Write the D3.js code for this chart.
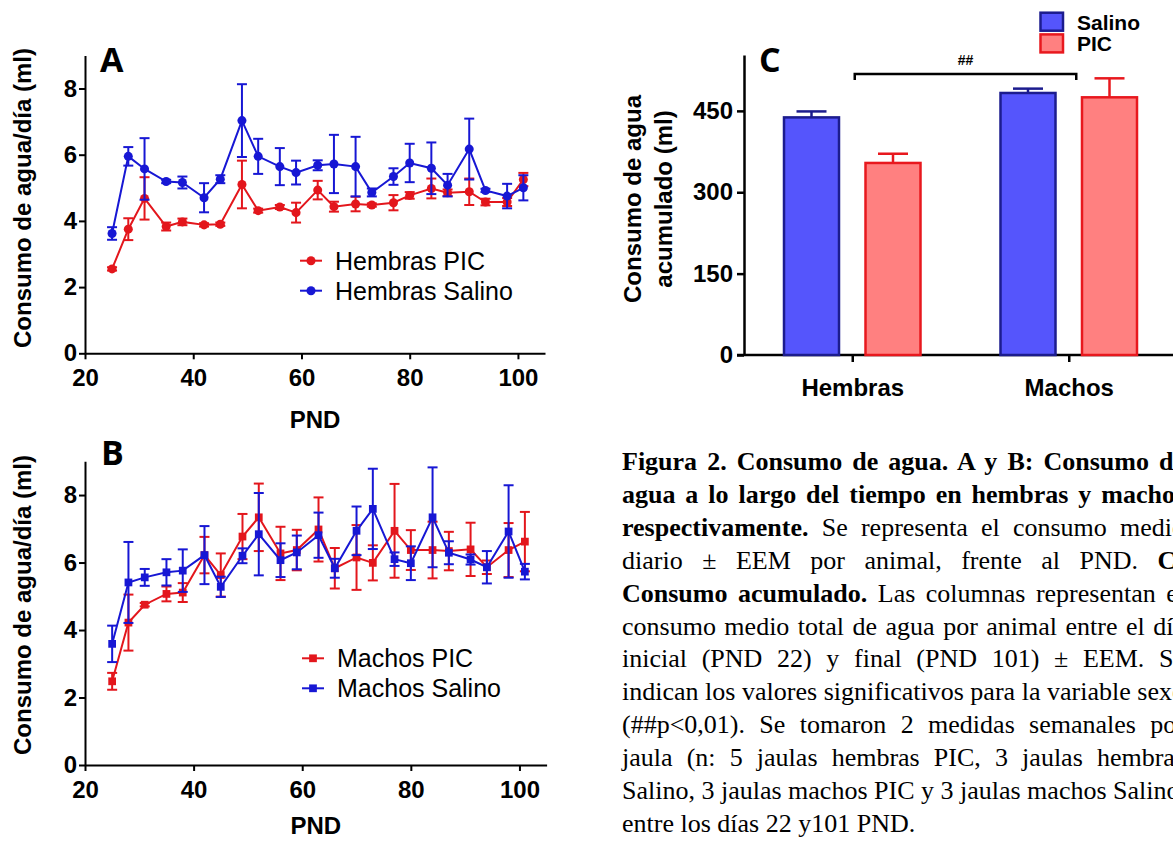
<!DOCTYPE html>
<html>
<head>
<meta charset="utf-8">
<script src="https://cdn.jsdelivr.net/npm/d3@7"></script>
<style>
body{margin:0;background:#fff}
svg{display:block;font-family:'Liberation Sans',Arial,sans-serif}
</style>
</head>
<body>
<svg></svg>
<script>
// PND (days) shared by A and B
let days = [25,28,31,35,38,42,45,49,52,56,59,63,66,70,73,77,80,84,87,91,94,98,101]

// A: hembras
let hembrasPIC = [2.55,3.75,4.68,3.83,3.97,3.88,3.9,5.1,4.31,4.42,4.25,4.93,4.43,4.51,4.48,4.55,4.77,4.98,4.85,4.88,4.57,4.57,5.25]
let hembrasPICerr = [0.05,0.33,0.64,0.12,0.1,0.05,0.05,0.72,0.06,0.06,0.3,0.28,0.15,0.22,0.05,0.23,0.1,0.3,0.1,0.4,0.1,0.12,0.2]
let hembrasSalino = [3.62,5.95,5.57,5.19,5.16,4.7,5.26,7.03,5.95,5.64,5.46,5.68,5.72,5.64,4.86,5.34,5.75,5.59,5.08,6.17,4.92,4.75,5.0]
let hembrasSalinoErr = [0.19,0.28,0.93,0.05,0.18,0.44,0.12,1.1,0.53,0.56,0.36,0.15,0.88,0.9,0.12,0.25,0.58,0.78,0.34,0.92,0.05,0.37,0.38]

// B: machos
let machosPIC = [2.48,4.22,4.75,5.07,5.11,6.22,5.63,6.77,7.34,6.27,6.37,6.98,5.83,6.15,5.99,6.94,6.37,6.37,6.34,6.39,5.86,6.37,6.62]
let machosPICerr = [0.25,0.83,0.05,0.22,0.28,0.54,0.64,0.67,1.0,0.79,0.6,0.95,0.6,0.96,0.52,1.39,0.59,0.84,0.57,0.79,0.2,0.8,0.88]
let machosSalino = [3.59,5.41,5.56,5.71,5.76,6.22,5.28,6.2,6.84,6.07,6.3,6.81,5.83,6.94,7.59,6.1,5.98,7.34,6.29,6.09,5.86,6.92,5.73]
let machosSalinoErr = [0.54,1.2,0.25,0.39,0.63,0.86,0.3,0.22,1.22,0.5,0.5,0.67,0.28,0.72,1.19,0.2,0.5,1.48,0.34,0.15,0.48,1.37,0.23]

let xTicks = [20,40,60,80,100]
let yTicks = [0,2,4,6,8]

// C: acumulado
let sexos = ['Hembras','Machos']
let acumSalino = [438,483]
let acumSalinoErr = [11,8]
let acumPIC = [354,475]
let acumPICerr = [17,35]
let cTicks = [0,150,300,450]

let red = '#e3161c'
let blue = '#1717d4'

let width = 1173
let height = 841

let svg = d3.select('svg').attr('width',width).attr('height',height)
svg.append('rect').attr('width',width).attr('height',height).attr('fill','#fff')

let styleAxis = (g, size) => {
    g.selectAll('path,line').attr('stroke','#000').attr('stroke-width',2)
    g.selectAll('text').attr('font-size',size).attr('font-weight','bold')
        .attr('fill','#000').attr('font-family',"'Liberation Sans',Arial,sans-serif")
}

let drawLinePanel = (p) => {
    let xscale = d3.scaleLinear().domain([20,105]).range(p.xr)
    let yscale = d3.scaleLinear().domain([0,9]).range(p.yr)

    let xAxis = d3.axisBottom(xscale).tickValues(xTicks).tickSize(6).tickSizeOuter(0).tickPadding(10)
    let yAxis = d3.axisLeft(yscale).tickValues(yTicks).tickSize(6).tickSizeOuter(0).tickPadding(2)

    svg.append('g').attr('transform','translate(0,'+p.yr[0]+')').call(xAxis).call(styleAxis,24)
    svg.append('g').attr('transform','translate('+p.xr[0]+',0)').call(yAxis).call(styleAxis,24)

    let sym = d3.symbol().type(p.symbol).size(p.symSize)

    p.series.forEach((s) => {
        let pts = days.map((d,i) => ({d:d, v:s.values[i], e:s.err[i]}))
        let g = svg.append('g')
        // error bars
        pts.forEach((pt) => {
            let x = xscale(pt.d)
            g.append('line').attr('x1',x).attr('x2',x)
                .attr('y1',yscale(pt.v-pt.e)).attr('y2',yscale(pt.v+pt.e))
                .attr('stroke',s.color).attr('stroke-width',2)
            ;[pt.v-pt.e, pt.v+pt.e].forEach((yy) => {
                g.append('line').attr('x1',x-5).attr('x2',x+5)
                    .attr('y1',yscale(yy)).attr('y2',yscale(yy))
                    .attr('stroke',s.color).attr('stroke-width',2)
            })
        })
        g.append('path').datum(pts)
            .attr('d', d3.line().x((pt) => xscale(pt.d)).y((pt) => yscale(pt.v)))
            .attr('fill','none').attr('stroke',s.color).attr('stroke-width',2)
        g.selectAll('.pt').data(pts).enter().append('path')
            .attr('d',sym)
            .attr('transform',(pt) => 'translate('+xscale(pt.d)+','+yscale(pt.v)+')')
            .attr('fill',s.color)
    })

    // legend
    p.series.forEach((s,i) => {
        let ly = p.legY + i*30
        svg.append('line').attr('x1',p.legX).attr('x2',p.legX+22).attr('y1',ly).attr('y2',ly)
            .attr('stroke',s.color).attr('stroke-width',2)
        svg.append('path').attr('d',sym).attr('transform','translate('+(p.legX+11)+','+ly+')').attr('fill',s.color)
        svg.append('text').attr('x',p.legX+35).attr('y',ly).attr('dominant-baseline','central')
            .attr('font-size',25).text(s.label)
    })

    svg.append('text').attr('transform','translate(22,'+p.titleY+') rotate(-90)')
        .attr('text-anchor','middle').attr('dominant-baseline','central')
        .attr('font-size',24).attr('font-weight','bold').text('Consumo de agua/día (ml)')
    svg.append('text').attr('x',(p.xr[0]+p.xr[1])/2).attr('y',p.pndY)
        .attr('text-anchor','middle').attr('font-size',24).attr('font-weight','bold').text('PND')
    svg.append('text').attr('x',p.letterX).attr('y',p.letterY)
        .attr('font-family',"'Open Sans',sans-serif").attr('font-size',34).attr('font-weight','bold').text(p.letter)
}

drawLinePanel({
    xr:[85,545], yr:[353.3,55.4], symbol:d3.symbolCircle, symSize:64,
    series:[
        {values:hembrasPIC, err:hembrasPICerr, color:red, label:'Hembras PIC'},
        {values:hembrasSalino, err:hembrasSalinoErr, color:blue, label:'Hembras Salino'}
    ],
    legX:300, legY:260.7, titleY:198, pndY:428, letter:'A', letterX:100, letterY:72
})

drawLinePanel({
    xr:[85,546.6], yr:[765,461.3], symbol:d3.symbolSquare, symSize:60,
    series:[
        {values:machosPIC, err:machosPICerr, color:red, label:'Machos PIC'},
        {values:machosSalino, err:machosSalinoErr, color:blue, label:'Machos Salino'}
    ],
    legX:302, legY:658.3, titleY:605, pndY:834, letter:'B', letterX:101, letterY:465
})

// ---- panel C ----
let drawBars = () => {
    let xscale = d3.scalePoint().domain(sexos).range([744,1177]).padding(0.5)
    let yscale = d3.scaleLinear().domain([0,553]).range([355,55])
    let barW = 55
    let off = 40.75

    svg.append('line').attr('x1',737).attr('x2',width).attr('y1',355).attr('y2',355)
        .attr('stroke','#000').attr('stroke-width',2.5)
    let xAxis = d3.axisBottom(xscale).tickSize(7).tickSizeOuter(0).tickPadding(17)
    let gx = svg.append('g').attr('transform','translate(0,355)').call(xAxis).call(styleAxis,24)
    gx.select('.domain').remove()
    gx.selectAll('line').attr('stroke-width',2.5)

    let yAxis = d3.axisLeft(yscale).tickValues(cTicks).tickSize(7).tickSizeOuter(0).tickPadding(4)
    let gy = svg.append('g').attr('transform','translate(744,0)').call(yAxis).call(styleAxis,24)
    gy.selectAll('path,line').attr('stroke-width',2.5)

    let groups = [
        {vals:acumSalino, err:acumSalinoErr, fill:'#5555fc', stroke:'#1c1c8e', dx:-off},
        {vals:acumPIC, err:acumPICerr, fill:'#ff8080', stroke:'#e8181e', dx:off}
    ]
    groups.forEach((gr) => {
        sexos.forEach((s,i) => {
            let cx = xscale(s) + gr.dx
            let top = yscale(gr.vals[i]+gr.err[i])
            svg.append('line').attr('x1',cx).attr('x2',cx).attr('y1',yscale(gr.vals[i])).attr('y2',top)
                .attr('stroke',gr.stroke).attr('stroke-width',2.5)
            svg.append('line').attr('x1',cx-15).attr('x2',cx+15).attr('y1',top).attr('y2',top)
                .attr('stroke',gr.stroke).attr('stroke-width',2.5)
            svg.append('rect').attr('x',cx-barW/2).attr('width',barW)
                .attr('y',yscale(gr.vals[i])).attr('height',yscale(0)-yscale(gr.vals[i]))
                .attr('fill',gr.fill).attr('stroke',gr.stroke).attr('stroke-width',2.5)
        })
    })

    // significance bracket
    let bx1 = xscale('Hembras')+2.5, bx2 = xscale('Machos')+7.5
    svg.append('path').attr('d','M'+bx1+',80V74H'+bx2+'V80')
        .attr('fill','none').attr('stroke','#000').attr('stroke-width',2.5)
    svg.append('text').attr('x',(bx1+bx2)/2).attr('y',60).attr('text-anchor','middle')
        .attr('dominant-baseline','central').attr('font-size',14).attr('font-weight','bold').text('##')

    // legend
    let leg = [['Salino','#5555fc','#1c1c8e'],['PIC','#ff8080','#e8181e']]
    leg.forEach((l,i) => {
        let y0 = 12.7 + i*21.7
        svg.append('rect').attr('x',1040.5).attr('y',y0).attr('width',22.5).attr('height',18)
            .attr('fill',l[1]).attr('stroke',l[2]).attr('stroke-width',2.5)
        svg.append('text').attr('x',1077).attr('y',y0+9.5).attr('dominant-baseline','central')
            .attr('font-size',21).attr('font-weight','bold').text(l[0])
    })

    ;['Consumo de agua','acumulado (ml)'].forEach((t,i) => {
        svg.append('text').attr('transform','translate('+(632+i*31.6)+',199) rotate(-90)')
            .attr('text-anchor','middle').attr('dominant-baseline','central')
            .attr('font-size',24).attr('font-weight','bold').text(t)
    })
    svg.append('text').attr('x',759).attr('y',72)
        .attr('font-family',"'Open Sans',sans-serif").attr('font-size',34).attr('font-weight','bold').text('C')
}
drawBars()

// ---- caption (the reference crops it at the right edge of the page) ----
let caption = [
    [['Figura 2. Consumo de agua. A y B: Consumo de',1]],
    [['agua a lo largo del tiempo en hembras y machos',1]],
    [['respectivamente.',1],[' Se representa el consumo medio',0]],
    [['diario ± EEM por animal, frente al PND. ',0],['C:',1]],
    [['Consumo acumulado.',1],[' Las columnas representan el',0]],
    [['consumo medio total de agua por animal entre el día',0]],
    [['inicial (PND 22) y final (PND 101) ± EEM. Se',0]],
    [['indican los valores significativos para la variable sexo',0]],
    [['(##p<0,01). Se tomaron 2 medidas semanales por',0]],
    [['jaula (n: 5 jaulas hembras PIC, 3 jaulas hembras',0]],
    [['Salino, 3 jaulas machos PIC y 3 jaulas machos Salino)',0]],
    [['entre los días 22 y101 PND.',0]]
]
let colW = 563
caption.forEach((line,i) => {
    let t = svg.append('text').attr('x',622).attr('y',470+i*32.9)
        .attr('font-family',"'Liberation Serif','Times New Roman',serif").attr('font-size',26)
        .attr('xml:space','preserve')
    line.forEach((seg) => {
        t.append('tspan').attr('font-weight',seg[1] ? 'bold' : 'normal').text(seg[0])
    })
    if (i < caption.length-1) {
        let full = line.map((s) => s[0]).join('')
        let spaces = full.split(' ').length-1
        let nat = t.node().getComputedTextLength()
        if (nat < colW) t.attr('word-spacing',(colW-nat)/spaces)
    }
})
</script>
</body>
</html>
